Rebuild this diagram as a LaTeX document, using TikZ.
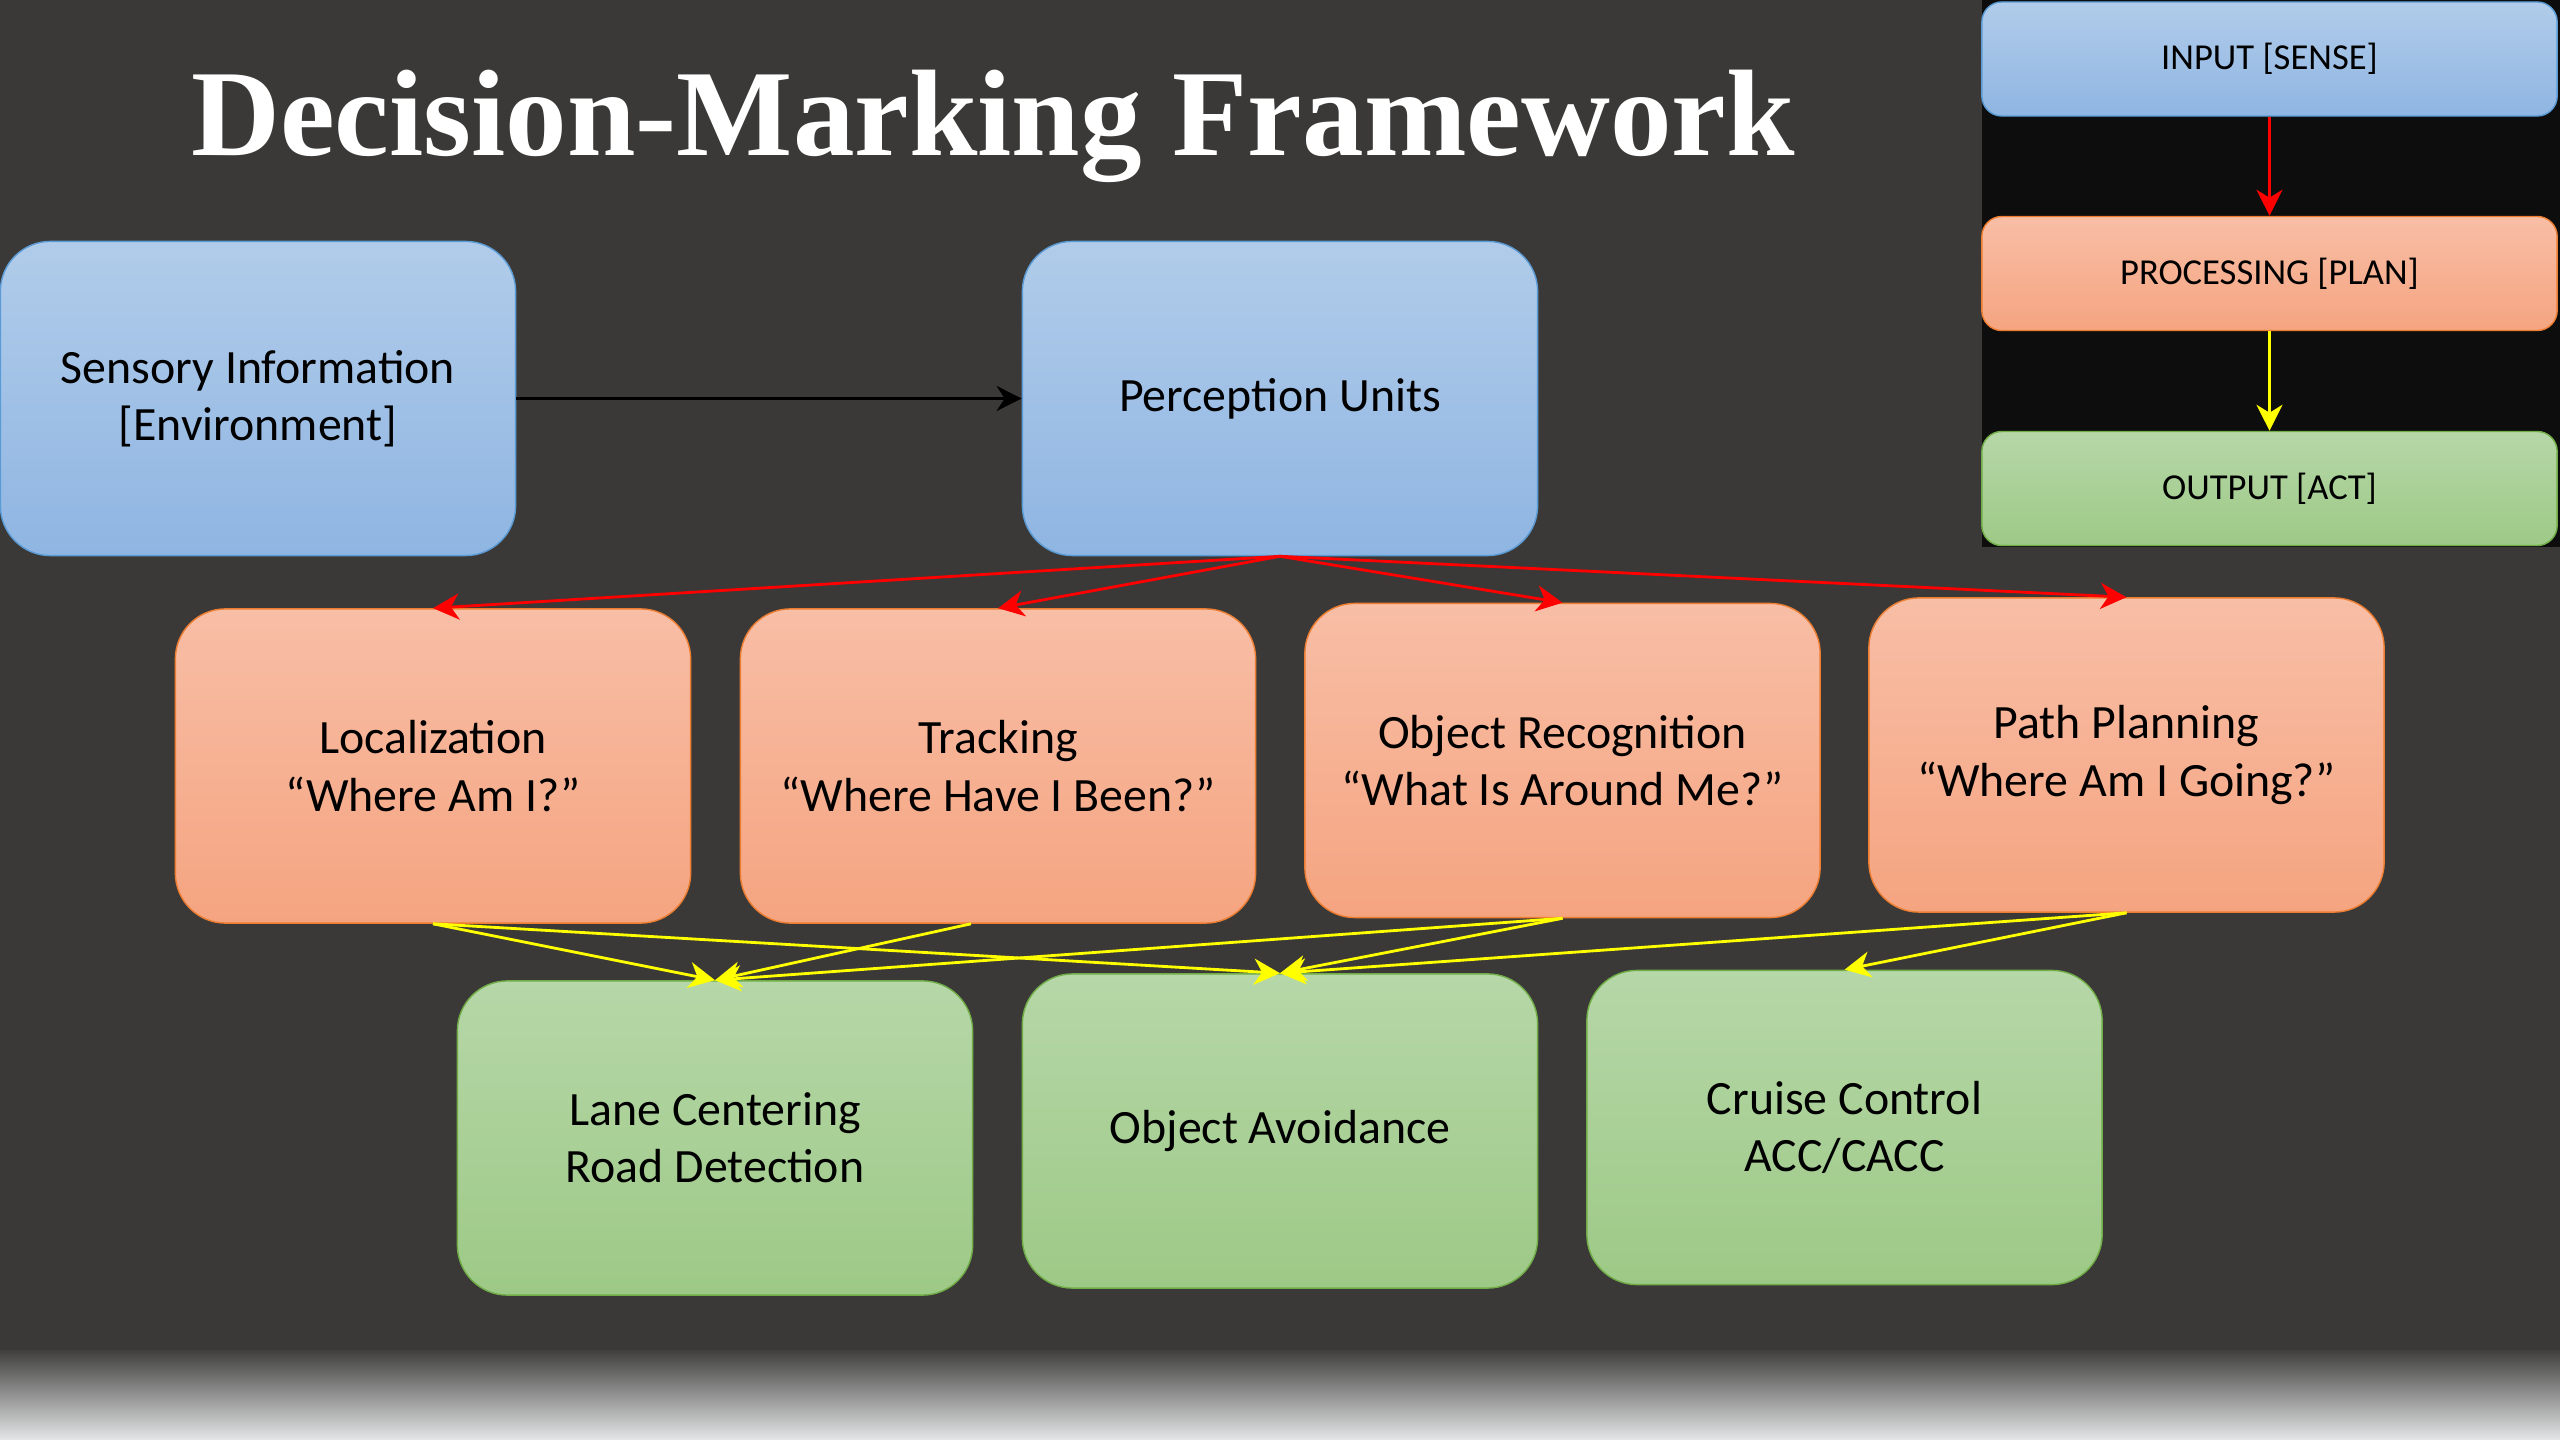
\documentclass[tikz,border=0pt]{standalone}
\usepackage{fontspec}
\setmainfont{Carlito}
\newfontfamily\titlefont{Liberation Serif}
\usetikzlibrary{arrows.meta}

\definecolor{slate}{RGB}{58,57,55}
\definecolor{panel}{RGB}{13,13,13}
\definecolor{fadetop}{RGB}{64,63,62}
\definecolor{fadebot}{RGB}{229,230,231}
\definecolor{bluetop}{RGB}{177,204,234}
\definecolor{bluebot}{RGB}{143,181,226}
\definecolor{bluebd}{RGB}{91,155,213}
\definecolor{orgtop}{RGB}{248,190,166}
\definecolor{orgbot}{RGB}{245,164,128}
\definecolor{orgbd}{RGB}{237,125,49}
\definecolor{grntop}{RGB}{182,215,168}
\definecolor{grnbot}{RGB}{157,201,134}
\definecolor{grnbd}{RGB}{112,173,71}
\definecolor{redline}{RGB}{255,0,0}
\definecolor{yelline}{RGB}{255,255,0}

\begin{document}
\begin{tikzpicture}[x=0.01cm,y=-0.01cm,
  card/.style={rounded corners=0.5cm, minimum width=5.15cm, minimum height=3.14cm,
    align=center, inner sep=0pt, text=black, line width=0.4pt,
    font=\fontsize{13.6}{16.3}\selectfont},
  bluecard/.style={card, draw=bluebd, top color=bluetop, bottom color=bluebot},
  orgcard/.style={card, draw=orgbd, top color=orgtop, bottom color=orgbot},
  grncard/.style={card, draw=grnbd, top color=grntop, bottom color=grnbot},
  keybox/.style={rounded corners=0.2cm, minimum width=5.75cm, minimum height=1.14cm,
    inner sep=0pt, text=black, line width=0.4pt, font=\fontsize{10.4}{12.5}\selectfont},
  link/.style={line width=0.8pt, -{Stealth[length=0.26cm,width=0.26cm,inset=0.08cm]}},
  redlink/.style={link, draw=redline, fill=redline},
  yellink/.style={link, draw=yelline, fill=yelline},
  blacklink/.style={line width=0.75pt, draw=black,
    -{Stealth[length=0.25cm,width=0.25cm,inset=0.08cm]}}
]
\useasboundingbox (0,0) rectangle (2560,1440);

% background and bottom fade
\fill[slate] (0,0) rectangle (2560,1440);
\shade[top color=fadetop, bottom color=fadebot] (0,1350) rectangle (2560,1440);

% key panel
\fill[panel] (1982,0) rectangle (2560,547);
\node[keybox, draw=bluebd, top color=bluetop, bottom color=bluebot] (kin)   at (2269.5,59)    {INPUT [SENSE]};
\node[keybox, draw=orgbd, top color=orgtop, bottom color=orgbot]    (kproc) at (2269.5,273.5) {PROCESSING [PLAN]};
\node[keybox, draw=grnbd, top color=grntop, bottom color=grnbot]    (kout)  at (2269.5,488.5) {OUTPUT [ACT]};
\draw[redlink] (kin.south) -- (kproc.north);
\draw[yellink] (kproc.south) -- (kout.north);

% title
\node[text=white, anchor=base, inner sep=0pt,
  font=\titlefont\bfseries\fontsize{35}{40}\selectfont] (title) at (993,156) {Decision-Marking Framework};

% sensing
\node[bluecard] (sens) at (258,398.5)  {Sensory Information\\{[Environment]}};
\node[bluecard] (perc) at (1280,398.5) {Perception Units};

% planning
\node[orgcard] (loc)    at (433,766)    {Localization\\“Where Am I?”};
\node[orgcard] (track)  at (998,766)    {Tracking\\“Where Have I Been?”};
\node[orgcard] (objrec) at (1562.5,760.5) {Object Recognition\\“What Is Around Me?”};
\node[orgcard] (path)   at (2126.5,755) {Path Planning\\“Where Am I Going?”};

% acting
\node[grncard] (lane)   at (715,1138)    {Lane Centering\\Road Detection};
\node[grncard] (avoid)  at (1280,1131)   {Object Avoidance};
\node[grncard] (cruise) at (1844.5,1127.5) {Cruise Control\\ACC/CACC};

% connectors
\draw[blacklink] (sens.east) -- (perc.west);

\draw[redlink] (perc.south) -- (loc.north);
\draw[redlink] (perc.south) -- (track.north);
\draw[redlink] (perc.south) -- (objrec.north);
\draw[redlink] (perc.south) -- (path.north);

\draw[yellink] (loc.south) -- (lane.north);
\draw[yellink] (loc.south) -- (avoid.north);
\draw[yellink] ([xshift=-0.27cm]track.south) -- (lane.north);
\draw[yellink] (objrec.south) -- (lane.north);
\draw[yellink] (objrec.south) -- (avoid.north);
\draw[yellink] (path.south) -- (avoid.north);
\draw[yellink] (path.south) -- (cruise.north);
\end{tikzpicture}
\end{document}
